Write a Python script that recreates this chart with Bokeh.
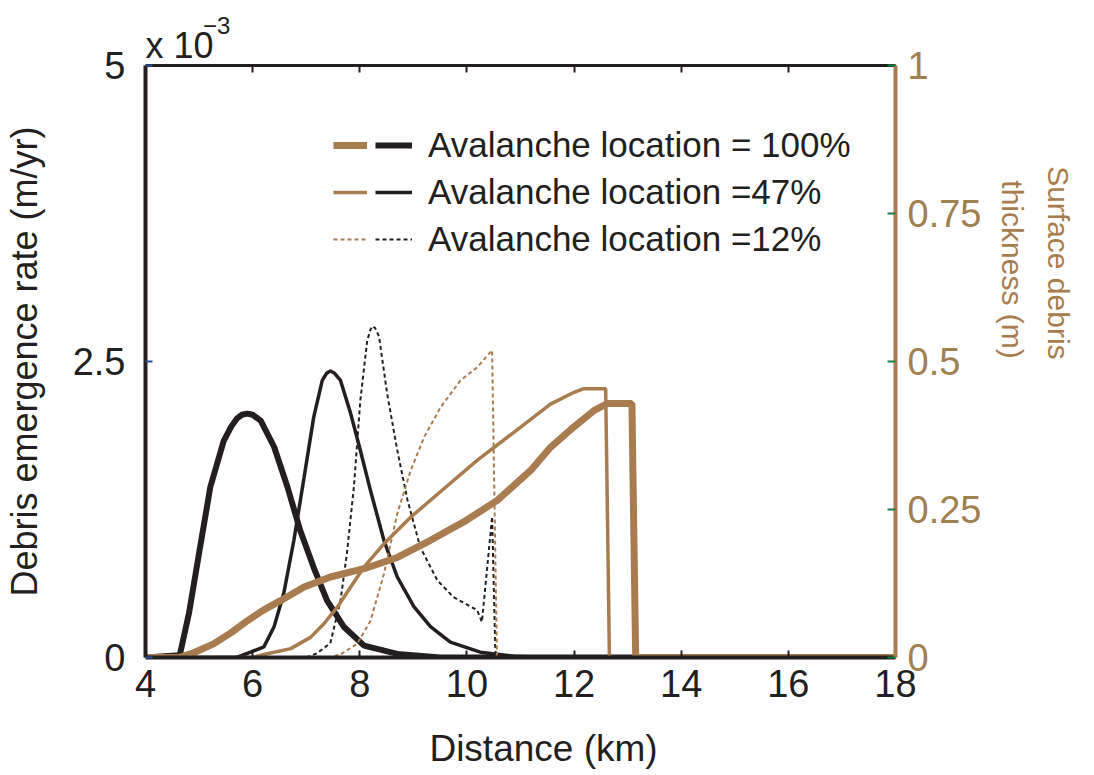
import math
from bokeh.plotting import figure
from bokeh.models import (LinearAxis, Range1d, FixedTicker, Legend, LegendItem)
from bokeh.embed import file_html
from bokeh.resources import INLINE

# ---------------- data ----------------
# Debris emergence rate, units of 1e-3 m/yr
em100_x = [4.0, 4.64, 4.81, 5.0, 5.21, 5.46, 5.60, 5.71, 5.80, 5.90, 6.00, 6.15, 6.40, 6.65, 6.89, 7.14, 7.39, 7.70, 8.08, 8.70, 9.5, 18.0]
em100_y = [0.0, 0.02, 0.37, 0.88, 1.44, 1.83, 1.95, 2.02, 2.05, 2.06, 2.05, 2.00, 1.78, 1.44, 1.07, 0.76, 0.48, 0.26, 0.10, 0.03, 0.0, 0.0]

em47_x = [4.0, 5.7, 5.96, 6.21, 6.40, 6.58, 6.77, 6.96, 7.14, 7.30, 7.38, 7.45, 7.53, 7.64, 7.83, 8.01, 8.20, 8.45, 8.70, 9.01, 9.32, 9.69, 10.25, 10.87, 11.6, 18.0]
em47_y = [0.0, 0.0, 0.045, 0.09, 0.26, 0.54, 0.99, 1.52, 2.03, 2.34, 2.40, 2.42, 2.40, 2.34, 2.06, 1.75, 1.41, 0.99, 0.68, 0.43, 0.26, 0.13, 0.045, 0.01, 0.0, 0.0]

em12_x = [4.0, 7.0, 7.20, 7.45, 7.64, 7.76, 7.89, 8.01, 8.14, 8.20, 8.24, 8.29, 8.36, 8.51, 8.70, 8.89, 9.13, 9.45, 9.75, 10.19, 10.28, 10.47, 10.53, 10.56, 18.0]
em12_y = [0.0, 0.0, 0.036, 0.12, 0.48, 0.88, 1.44, 2.17, 2.68, 2.77, 2.80, 2.78, 2.71, 2.23, 1.75, 1.33, 0.93, 0.65, 0.51, 0.40, 0.30, 1.19, 0.06, 0.0, 0.0]

# Surface debris thickness, m
th100_x = [4.0, 4.62, 4.90, 5.27, 5.60, 5.90, 6.20, 6.52, 6.96, 7.45, 8.08, 8.70, 9.32, 9.94, 10.56, 11.19, 11.56, 11.99, 12.37, 12.62, 13.08, 13.15, 18.0]
th100_y = [0.0, 0.0, 0.008, 0.023, 0.042, 0.062, 0.080, 0.096, 0.119, 0.136, 0.150, 0.169, 0.198, 0.229, 0.265, 0.316, 0.355, 0.389, 0.417, 0.429, 0.429, 0.0, 0.0]

th47_x = [4.0, 6.0, 6.21, 6.71, 7.08, 7.33, 7.58, 7.83, 8.08, 8.45, 8.95, 9.57, 10.19, 10.87, 11.56, 12.0, 12.18, 12.59, 12.66, 18.0]
th47_y = [0.0, 0.0, 0.005, 0.015, 0.034, 0.057, 0.085, 0.119, 0.153, 0.192, 0.237, 0.285, 0.333, 0.380, 0.428, 0.448, 0.454, 0.454, 0.0, 0.0]

th12_x = [4.0, 7.4, 7.64, 7.95, 8.20, 8.45, 8.70, 8.95, 9.20, 9.51, 9.88, 10.19, 10.47, 10.56, 18.0]
th12_y = [0.0, 0.0, 0.005, 0.023, 0.062, 0.141, 0.243, 0.316, 0.372, 0.423, 0.468, 0.490, 0.519, 0.0, 0.0]

labels = ["Avalanche location = 100%", "Avalanche location =47%", "Avalanche location =12%"]
x_ticks = [4, 6, 8, 10, 12, 14, 16, 18]
left_ticks = [0, 2.5, 5]
left_tick_labels = ["0", "2.5", "5"]
right_ticks = [0, 0.25, 0.5, 0.75, 1]
right_tick_labels = ["0", "0.25", "0.5", "0.75", "1"]
x_label = "Distance (km)"
y_label = "Debris emergence rate (m/yr)"
y2_label_lines = ["Surface debris", "thickness (m)"]
exp_text = ["x 10", "\u22123"]

# ---------------- styling ----------------
BROWN = "#A97C50"
BLACK = "#231F20"
RTICK = "#A0804F"
FONT = "Liberation Sans"

p = figure(width=1094, height=775, x_range=Range1d(4, 18), y_range=Range1d(0, 5),
           output_backend="svg", toolbar_location=None, title=None,
           min_border_left=145, min_border_right=199, min_border_top=65, min_border_bottom=118)
p.outline_line_color = None
p.xgrid.visible = False
p.ygrid.visible = False
p.background_fill_color = "white"
p.border_fill_color = "white"
p.extra_y_ranges = {"th": Range1d(0, 1)}


def text_only_axis(ax, pos, text, size, color, standoff, orient="horizontal"):
    ax.ticker = FixedTicker(ticks=[pos])
    ax.major_label_overrides = {pos: text}
    ax.axis_line_color = None
    ax.major_tick_line_color = None
    ax.minor_tick_line_color = None
    ax.major_tick_in = 0
    ax.major_tick_out = 0
    ax.major_label_text_font = FONT
    ax.major_label_text_font_size = size
    ax.major_label_text_color = color
    ax.major_label_standoff = standoff
    ax.major_label_orientation = orient


# left axis (ticks + title)
ya = p.yaxis[0]
ya.ticker = FixedTicker(ticks=left_ticks)
ya.major_label_overrides = {t: l for t, l in zip(left_ticks, left_tick_labels)}
ya.axis_label = y_label
ya.axis_label_text_font = FONT
ya.axis_label_text_font_size = "36px"
ya.axis_label_text_font_style = "normal"
ya.axis_label_text_color = BLACK
ya.axis_label_standoff = 25
# bottom axis
xa = p.xaxis[0]
xa.ticker = FixedTicker(ticks=x_ticks)

for ax in (xa, ya):
    ax.axis_line_color = BLACK
    ax.axis_line_width = 4
    ax.major_tick_in = 7
    ax.major_tick_out = 0
    ax.minor_tick_line_color = None
    ax.major_label_text_font = FONT
    ax.major_label_text_font_size = "38px"
    ax.major_label_text_color = BLACK
ya.major_tick_line_color = "#2a4fa0"
ya.major_tick_line_width = 2
xa.major_tick_line_color = BLACK
xa.major_tick_line_width = 2
ya.major_label_standoff = 20
xa.major_label_standoff = 12

# x axis title as an outer text-only axis
xl = LinearAxis()
text_only_axis(xl, 11.43, x_label, "37px", BLACK, 28)
p.add_layout(xl, "below")

# top axis (frame line with inward ticks)
top = LinearAxis(ticker=FixedTicker(ticks=x_ticks),
                 axis_line_color=BLACK, axis_line_width=3, major_tick_in=7, major_tick_out=0,
                 major_tick_line_color=BLACK, major_tick_line_width=2, minor_tick_line_color=None,
                 major_label_standoff=0)
top.major_label_overrides = {t: "" for t in x_ticks}
top.major_label_text_color = None
p.add_layout(top, "above")

# exponent "x 10^-3" as text-only axes above the frame
ex1 = LinearAxis()
text_only_axis(ex1, 4.635, exp_text[0], "36px", BLACK, 0)
p.add_layout(ex1, "above")
ex2 = LinearAxis()
text_only_axis(ex2, 5.33, exp_text[1], "24px", BLACK, -12)
p.add_layout(ex2, "above")

# right axis
ra = LinearAxis(y_range_name="th", ticker=FixedTicker(ticks=right_ticks))
ra.major_label_overrides = {t: l for t, l in zip(right_ticks, right_tick_labels)}
ra.axis_line_color = BROWN
ra.axis_line_width = 4
ra.major_tick_in = 8
ra.major_tick_out = 0
ra.major_tick_line_color = "#1a7f3c"
ra.major_tick_line_width = 2
ra.minor_tick_line_color = None
ra.major_label_text_font = FONT
ra.major_label_text_font_size = "38px"
ra.major_label_text_color = RTICK
ra.major_label_standoff = 12
p.add_layout(ra, "right")

# right axis title (two lines) as text-only axes
r2 = LinearAxis(y_range_name="th")
text_only_axis(r2, 0.806, y2_label_lines[1], "30px", BROWN, 28, -math.pi / 2)
p.add_layout(r2, "right")
r3 = LinearAxis(y_range_name="th")
text_only_axis(r3, 0.830, y2_label_lines[0], "30px", BROWN, 10, -math.pi / 2)
p.add_layout(r3, "right")

# ---------------- curves ----------------
b100 = p.line(em100_x, em100_y, line_color=BLACK, line_width=6)
b47 = p.line(em47_x, em47_y, line_color=BLACK, line_width=3.5)
b12 = p.line(em12_x, em12_y, line_color=BLACK, line_width=2, line_dash="4 3")
t12 = p.line(th12_x, th12_y, line_color=BROWN, line_width=2, line_dash="4 3", y_range_name="th")
t47 = p.line(th47_x, th47_y, line_color=BROWN, line_width=3.5, y_range_name="th")
t100 = p.line(th100_x, th100_y, line_color=BROWN, line_width=7, y_range_name="th")

# ---------------- legend (brown sample + black sample + label) ----------------
leg_b = Legend(items=[LegendItem(label=" ", renderers=[r]) for r in (t100, t47, t12)],
               location=(188, 398), glyph_width=34, glyph_height=40, label_height=40,
               label_width=0, label_standoff=0, spacing=7, padding=0, margin=0,
               border_line_color=None, background_fill_alpha=0,
               label_text_font=FONT, label_text_font_size="35px")
leg_k = Legend(items=[LegendItem(label=l, renderers=[r]) for l, r in zip(labels, (b100, b47, b12))],
               location=(230, 398), glyph_width=37, glyph_height=40, label_height=40,
               label_standoff=16, spacing=7, padding=0, margin=0,
               border_line_color=None, background_fill_alpha=0,
               label_text_font=FONT, label_text_font_size="35px", label_text_color=BLACK)
p.add_layout(leg_b, "center")
p.add_layout(leg_k, "center")

open("out.html", "w").write(file_html(p, INLINE))
